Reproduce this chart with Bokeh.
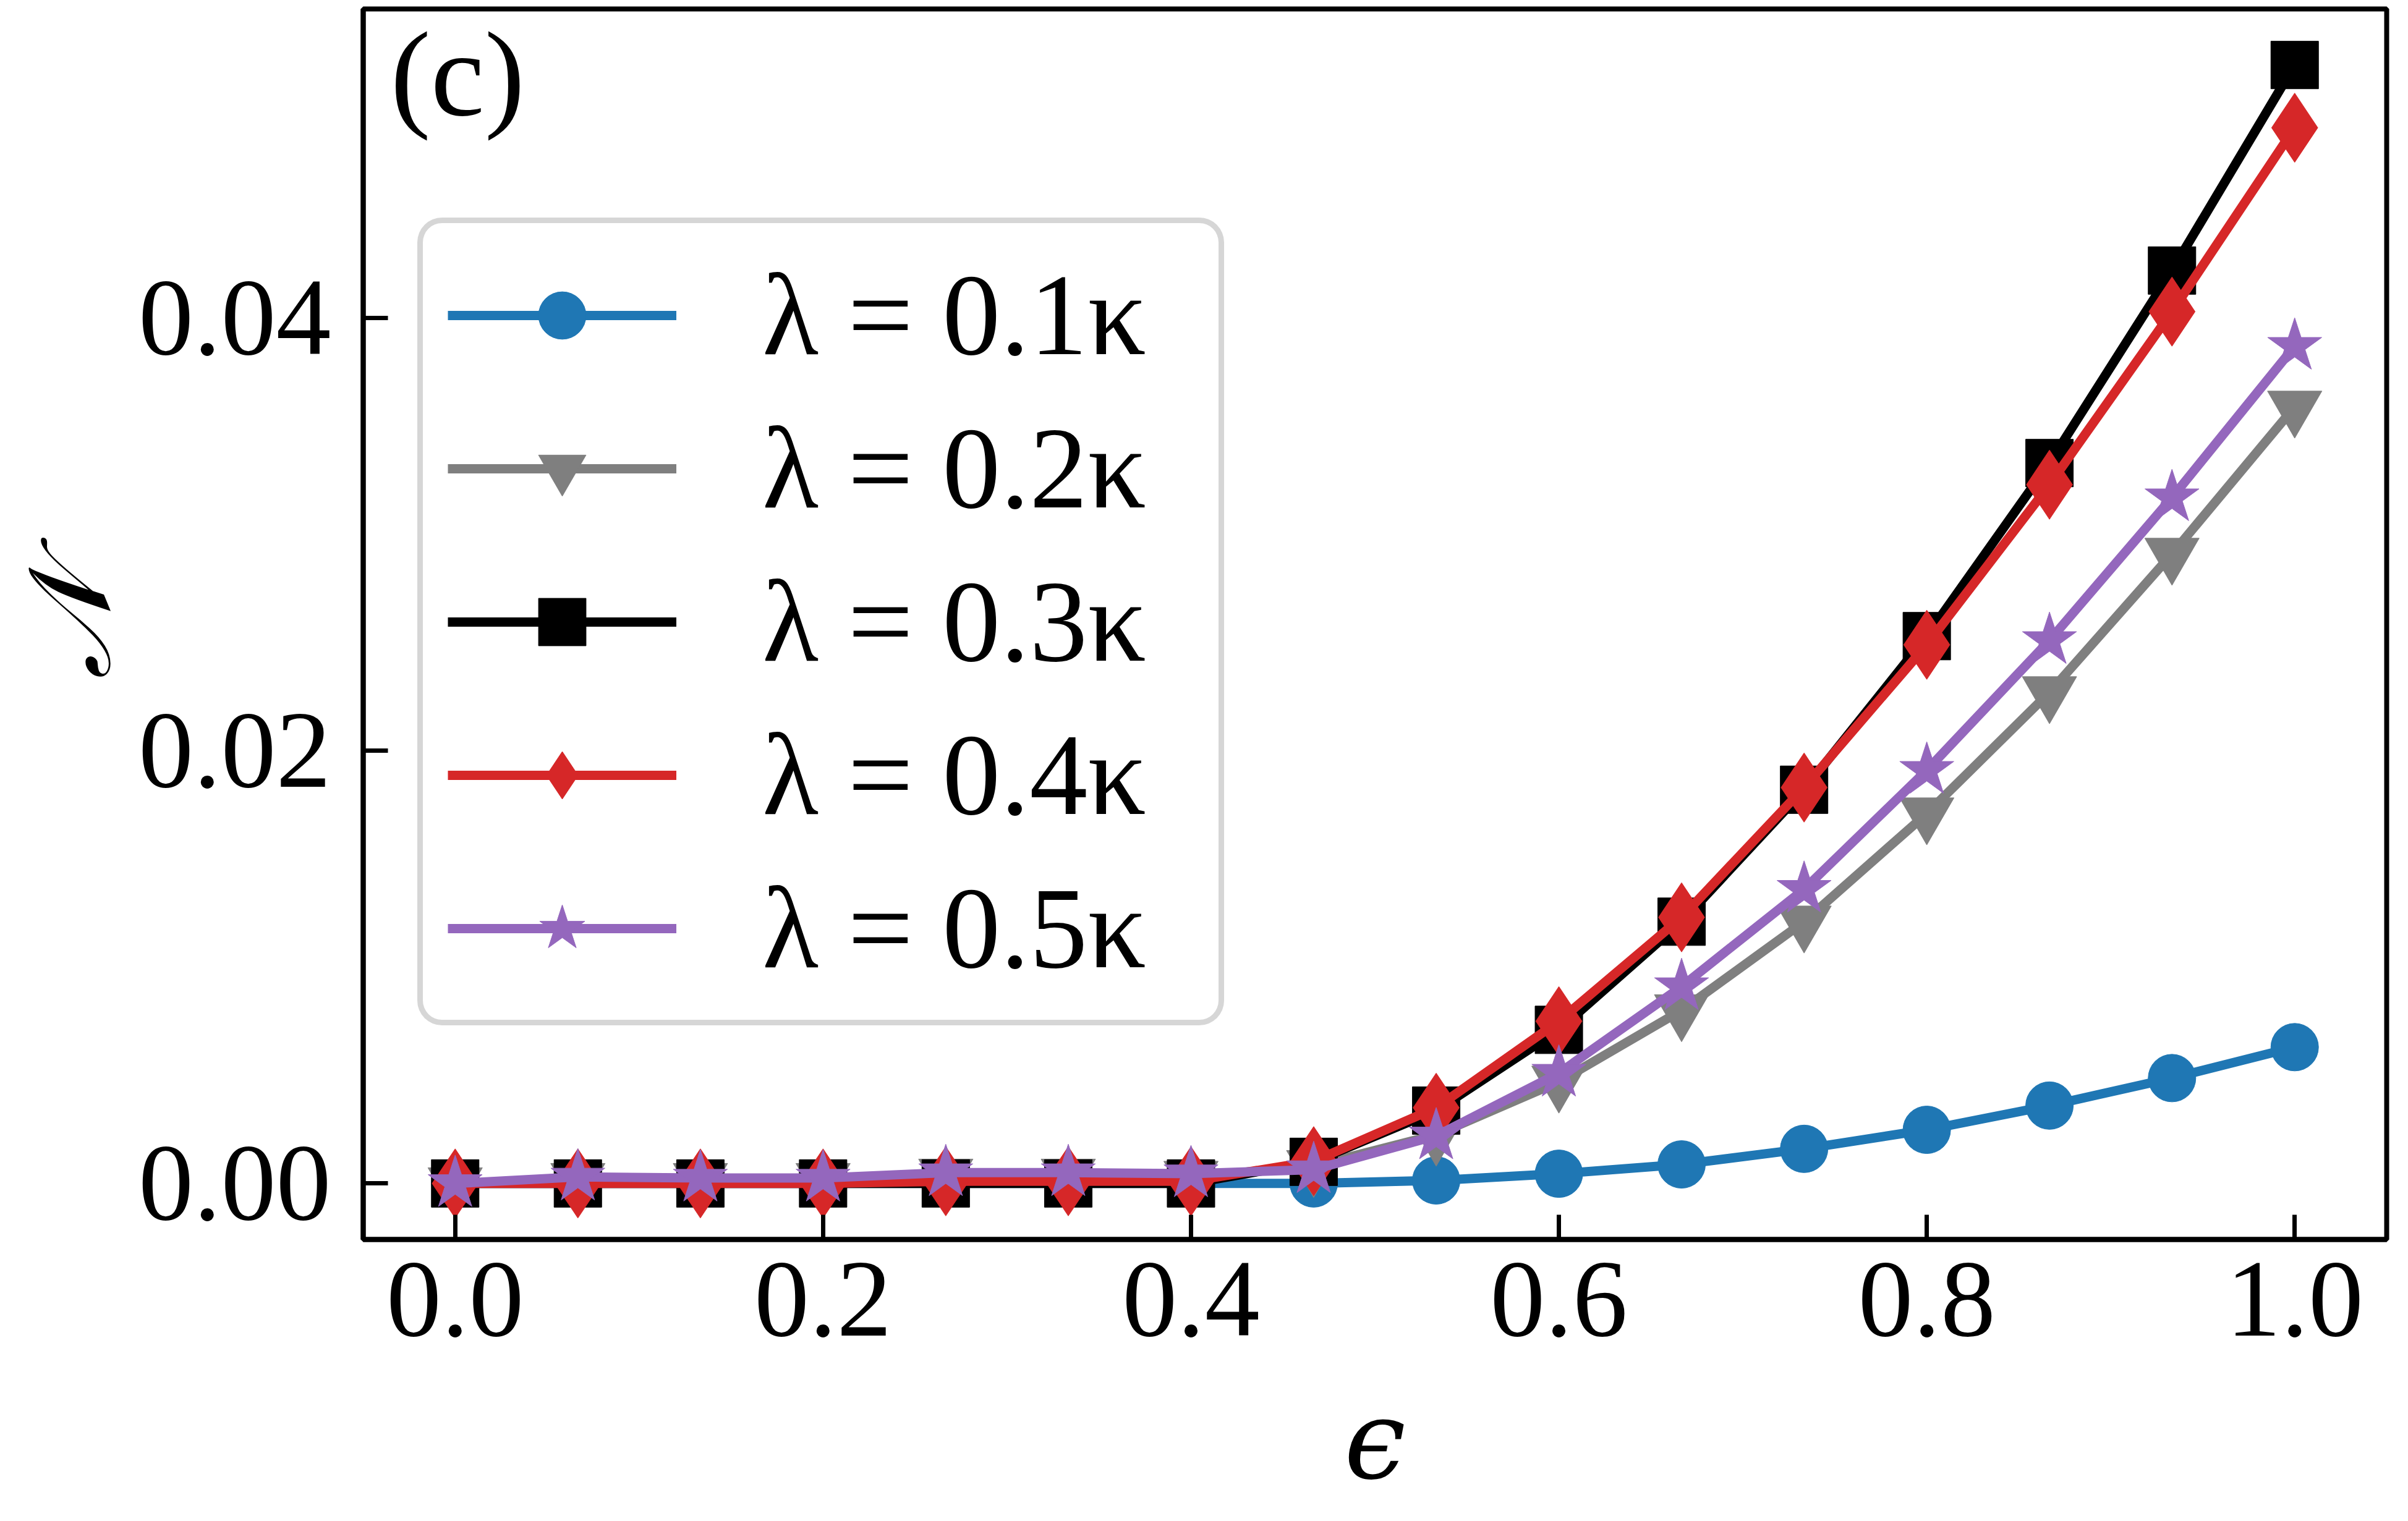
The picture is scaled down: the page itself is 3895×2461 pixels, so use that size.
from bokeh.plotting import figure
from bokeh.models import Range1d, FixedTicker, PrintfTickFormatter, Legend, LegendItem, Label
from bokeh.embed import file_html
from bokeh.resources import INLINE

# ---- data ----
epsilon = [0.0, 0.0667, 0.1333, 0.2, 0.2667, 0.3333, 0.4, 0.4667,
           0.5333, 0.6, 0.6667, 0.7333, 0.8, 0.8667, 0.9333, 1.0]

lam_01 = [0.0, 0.0, 0.0, 0.0, 0.0, 0.0, 0.0, 0.0,
          0.00014, 0.00045, 0.00088, 0.0016, 0.00248, 0.0036, 0.00487, 0.0063]
lam_02 = [0.0, 0.0002, 0.0002, 0.0002, 0.0004, 0.0004, 0.0003, 0.0008,
          0.00225, 0.0047, 0.0080, 0.0121, 0.0171, 0.0227, 0.0291, 0.0359]
lam_03 = [0.0, 0.0, 0.0, 0.0, 0.0, 0.0, 0.0, 0.0010,
          0.00337, 0.0071, 0.0121, 0.0182, 0.0253, 0.0333, 0.0422, 0.0517]
lam_04 = [0.0, 0.0, 0.0, 0.0, 0.0001, 0.0001, 0.0001, 0.00103,
          0.0035, 0.0075, 0.0123, 0.0183, 0.0249, 0.0323, 0.0403, 0.0488]
lam_05 = [0.0, 0.0003, 0.00025, 0.00025, 0.0005, 0.0005, 0.00045, 0.00064,
          0.0022, 0.0051, 0.0091, 0.0136, 0.0191, 0.0251, 0.0317, 0.0387]

series = [lam_01, lam_02, lam_03, lam_04, lam_05]
labels = ["λ = 0.1κ", "λ = 0.2κ", "λ = 0.3κ", "λ = 0.4κ", "λ = 0.5κ"]
colors = ["#1f77b4", "#7f7f7f", "#000000", "#d62728", "#9467bd"]
markers = ["circle", "inverted_triangle", "square", "diamond", "star"]
marker_sizes = [77, 88, 77, 112, 92]

x_ticks = [0.0, 0.2, 0.4, 0.6, 0.8, 1.0]
y_ticks = [0.0, 0.02, 0.04]

FONT = "Liberation Serif"
FS = "178px"

W, H = 3879, 2445
p = figure(width=W, height=H, output_backend="svg", toolbar_location=None,
           x_range=Range1d(-0.05, 1.05), y_range=Range1d(-0.00259, 0.05429),
           min_border_left=582, min_border_right=19, min_border_top=14,
           min_border_bottom=440)
p.background_fill_color = "white"
p.border_fill_color = "white"
p.outline_line_color = "black"
p.outline_line_width = 8
p.xgrid.visible = False
p.ygrid.visible = False

for ax in (p.xaxis[0], p.yaxis[0]):
    ax.axis_line_width = 8
    ax.axis_line_color = "black"
    ax.major_tick_in = 40
    ax.major_tick_out = 0
    ax.major_tick_line_width = 7
    ax.minor_tick_line_color = None
    ax.major_label_text_font = FONT
    ax.major_label_text_font_size = FS
    ax.major_label_text_color = "black"
    ax.axis_label_text_font_size = FS
    ax.axis_label_text_color = "black"
    ax.axis_label_text_font_style = "italic"

p.xaxis.ticker = FixedTicker(ticks=x_ticks)
p.yaxis.ticker = FixedTicker(ticks=y_ticks)
p.xaxis.formatter = PrintfTickFormatter(format="%.1f")
p.yaxis.formatter = PrintfTickFormatter(format="%.2f")
p.xaxis.major_label_standoff = 38
p.yaxis.major_label_standoff = 52
p.xaxis.axis_label = "ϵ"
p.xaxis.axis_label_text_font = "DejaVu Serif"
p.xaxis.axis_label_standoff = 62
p.yaxis.axis_label = "𝒩"
p.yaxis.axis_label_text_font = "DejaVu Serif"
p.yaxis.axis_label_text_font_size = "186px"
p.yaxis.axis_label_standoff = 0

items = []
for ys, lab, col, mk, ms in zip(series, labels, colors, markers, marker_sizes):
    lr = p.line(epsilon, ys, line_color=col, line_width=15)
    sr = p.scatter(epsilon, ys, marker=mk, size=ms, fill_color=col,
                   line_color=col, line_width=1)
    items.append(LegendItem(label=lab, renderers=[lr, sr]))

legend = Legend(items=items, location=(88, 346))
legend.label_text_font = FONT
legend.label_text_font_size = "188px"
legend.label_text_color = "black"
legend.glyph_width = 370
legend.glyph_height = 192
legend.label_height = 192
legend.label_width = 698
legend.label_standoff = 139
legend.spacing = 31
legend.padding = 40
legend.margin = 0
legend.border_line_color = "#cccccc"
legend.border_line_alpha = 0.8
legend.border_line_width = 9
legend.background_fill_color = "white"
legend.background_fill_alpha = 0.8
try:
    legend.border_radius = 40
except Exception:
    pass
p.add_layout(legend)

tag = Label(x=44, y=1995, x_units="screen", y_units="screen", text="(c)",
            text_font=FONT, text_font_size="196px", text_baseline="top",
            text_color="black")
p.add_layout(tag)

open("out.html", "w").write(file_html(p, INLINE))
